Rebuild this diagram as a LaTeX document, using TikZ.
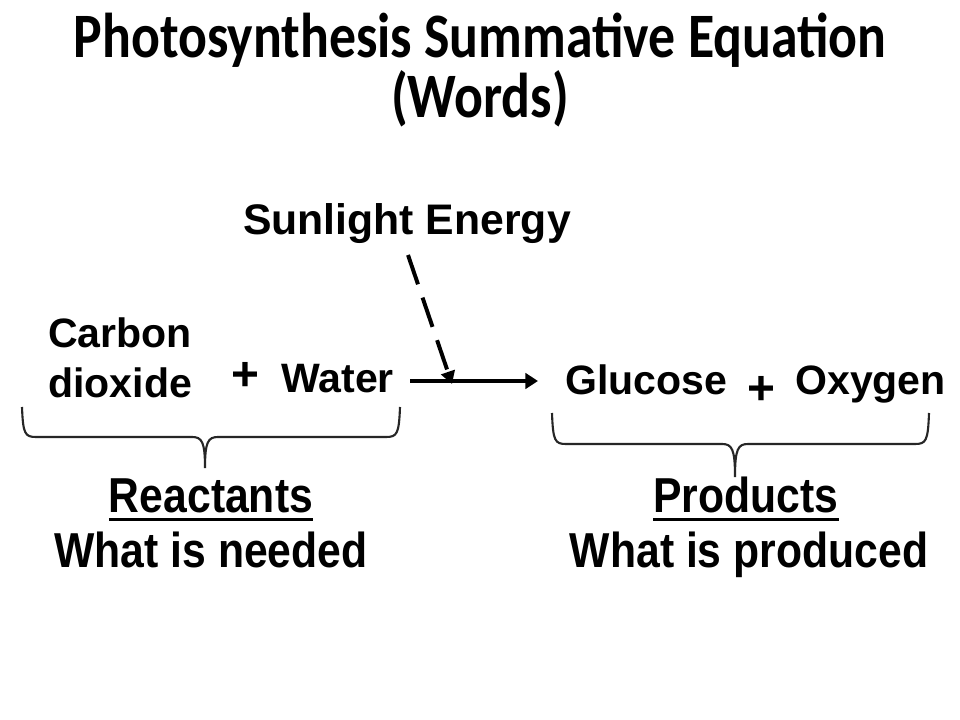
\documentclass[tikz,border=0pt]{standalone}
\usepackage{fontspec}
\setmainfont{Liberation Sans}
\newfontfamily\headfont[FakeStretch=0.85]{Carlito}
\newfontfamily\narrowfont[FakeStretch=0.87]{Liberation Sans}
\usetikzlibrary{arrows.meta}
\newcommand{\ulword}[1]{\vtop{\hbox{#1}\kern3pt\hrule height 2pt}}

\begin{document}
\begin{tikzpicture}[x=0.025cm,y=-0.025cm,
    heading/.style={font=\headfont\fontsize{45}{60}\selectfont\bfseries,inner sep=0pt},
    word/.style={font=\fontsize{29.2}{35.6}\selectfont\bfseries,inner sep=0pt},
    plus/.style={font=\fontsize{34}{40}\selectfont\bfseries,inner sep=0pt},
    sumtext/.style={font=\narrowfont\fontsize{34.9}{40}\selectfont\bfseries,inner sep=0pt},
    brace/.style={line width=1.5pt,black!85},
    react/.style={-{Triangle[length=9pt,width=11pt]},line width=3.5pt},
    sunray/.style={-{Triangle[length=9pt,width=10pt]},line width=2.8pt,dash pattern=on 22pt off 10pt}]
      \fill[white] (0,0) rectangle (960,720);
      % title
      \node[heading,anchor=base] (head1) at (480,58) {Photosynthesis Summative Equation};
      \node[heading,anchor=base] (head2) at (480,118) {(Words)};
      % equation
      \node[word,anchor=base,font=\fontsize{30.4}{36}\selectfont\bfseries] (sun) at (407,235) {Sunlight Energy};
      \node[word,anchor=base west,align=left] (co2) at (48,398) {Carbon\\dioxide};
      \node[plus] (plusL) at (245,376) {+};
      \node[word,anchor=base west] (water) at (281,393) {Water};
      \node[word,anchor=base west] (glucose) at (565,395) {Glucose};
      \node[plus] (plusR) at (761,390) {+};
      \node[word,anchor=base west] (oxygen) at (795,395) {Oxygen};
      \coordinate (arrowL) at (410,381);
      \coordinate (arrowR) at (538,381);
      \coordinate (rayS) at (408,255);
      \coordinate (rayE) at (452,384);
      \draw[react] (arrowL) -- (arrowR);
      \draw[sunray] (rayS) -- (rayE);
      % braces
      \draw[brace] (22,407) .. controls (23,434) and (25,437) .. (36,437) -- (192,437)
        .. controls (202,437) and (205,442) .. (205,468)
        .. controls (205,442) and (208,437) .. (218,437) -- (386,437)
        .. controls (397,437) and (399,434) .. (400,407);
      \draw[brace] (552,413) .. controls (553,441) and (555,444) .. (566,444) -- (722,444)
        .. controls (732,444) and (735,449) .. (735,477)
        .. controls (735,449) and (738,444) .. (748,444) -- (915,444)
        .. controls (926,444) and (928,441) .. (929,413);
      % labels
      \node[sumtext,anchor=base] (reactants) at (211,513) {\ulword{Reactants}};
      \node[sumtext,anchor=base] (needed) at (211,568) {What is needed};
      \node[sumtext,anchor=base] (products) at (746,513) {\ulword{Products}};
      \node[sumtext,anchor=base] (produced) at (749,568) {What is produced};
    \end{tikzpicture}
\end{document}
